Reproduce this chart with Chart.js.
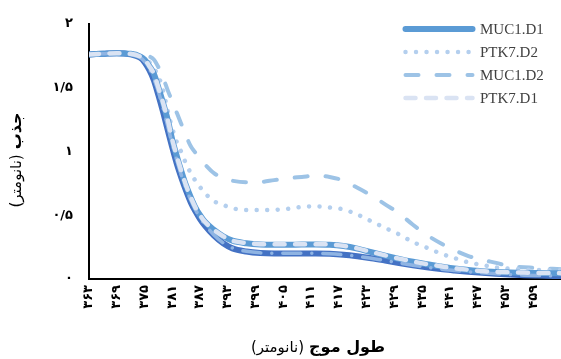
<!DOCTYPE html>
<html>
<head>
<meta charset="utf-8">
<script src="https://cdn.jsdelivr.net/npm/chart.js@4.4.1/dist/chart.umd.min.js"></script>
<style>
  html, body { margin: 0; padding: 0; background: #ffffff; }
  #wrap { width: 561px; height: 359px; }
</style>
</head>
<body>
<div id="wrap"><canvas id="chart" width="561" height="359"></canvas></div>
<script>
// Wavelength (nm) of each reading
const wavelengths = [363, 366, 369, 372, 374, 375, 376, 377, 378, 379, 380, 381, 382, 383, 384, 385, 386, 387, 388, 390, 392, 394, 397, 400, 403, 406, 409, 412, 415, 418, 421, 424, 427, 430, 433, 436, 439, 442, 445, 448, 451, 454, 457, 460, 465];

// Absorbance readings per sample
const muc1D1 = [1.76, 1.765, 1.77, 1.765, 1.745, 1.72, 1.67, 1.61, 1.50, 1.38, 1.25, 1.09, 0.96, 0.84, 0.73, 0.64, 0.56, 0.50, 0.45, 0.385, 0.335, 0.30, 0.28, 0.27, 0.268, 0.268, 0.27, 0.27, 0.268, 0.258, 0.238, 0.21, 0.183, 0.158, 0.135, 0.115, 0.098, 0.082, 0.07, 0.06, 0.054, 0.05, 0.048, 0.047, 0.045];
const ptk7D2 = [1.76, 1.765, 1.77, 1.765, 1.75, 1.73, 1.70, 1.65, 1.59, 1.48, 1.32, 1.18, 1.07, 0.99, 0.90, 0.83, 0.77, 0.72, 0.675, 0.61, 0.58, 0.555, 0.54, 0.54, 0.542, 0.55, 0.565, 0.57, 0.56, 0.545, 0.505, 0.453, 0.40, 0.35, 0.29, 0.245, 0.20, 0.164, 0.13, 0.11, 0.09, 0.08, 0.073, 0.07, 0.068];
const muc1D2 = [1.76, 1.77, 1.775, 1.77, 1.76, 1.755, 1.745, 1.72, 1.66, 1.58, 1.48, 1.39, 1.30, 1.21, 1.12, 1.04, 0.99, 0.94, 0.90, 0.83, 0.79, 0.77, 0.758, 0.76, 0.775, 0.79, 0.80, 0.81, 0.80, 0.77, 0.715, 0.655, 0.585, 0.515, 0.425, 0.345, 0.28, 0.225, 0.18, 0.15, 0.126, 0.10, 0.093, 0.085, 0.077];
const ptk7D1 = [1.76, 1.765, 1.77, 1.765, 1.745, 1.72, 1.67, 1.61, 1.50, 1.38, 1.25, 1.09, 0.96, 0.84, 0.73, 0.64, 0.56, 0.50, 0.45, 0.385, 0.335, 0.30, 0.282, 0.273, 0.272, 0.272, 0.273, 0.273, 0.27, 0.26, 0.24, 0.212, 0.185, 0.16, 0.137, 0.117, 0.1, 0.084, 0.072, 0.062, 0.056, 0.052, 0.05, 0.048, 0.046];
const series5 = [1.76, 1.765, 1.77, 1.76, 1.735, 1.70, 1.64, 1.56, 1.44, 1.31, 1.17, 1.03, 0.90, 0.79, 0.69, 0.60, 0.53, 0.47, 0.42, 0.34, 0.28, 0.24, 0.215, 0.203, 0.20, 0.20, 0.20, 0.20, 0.197, 0.19, 0.178, 0.163, 0.145, 0.126, 0.108, 0.092, 0.078, 0.067, 0.057, 0.048, 0.041, 0.035, 0.03, 0.027, 0.023];
const series6 = [1.76, 1.765, 1.77, 1.76, 1.738, 1.705, 1.65, 1.57, 1.47, 1.34, 1.20, 1.06, 0.93, 0.81, 0.71, 0.62, 0.545, 0.48, 0.43, 0.345, 0.283, 0.243, 0.217, 0.205, 0.202, 0.201, 0.201, 0.201, 0.198, 0.19, 0.178, 0.163, 0.145, 0.126, 0.108, 0.092, 0.078, 0.067, 0.057, 0.048, 0.041, 0.035, 0.03, 0.027, 0.023];

// Axis ticks
const xTickValues = [363, 369, 375, 381, 387, 393, 399, 405, 411, 417, 423, 429, 435, 441, 447, 453, 459];
const yTickValues = [0, 0.5, 1, 1.5, 2];

// Titles
const xTitleBold = 'طول موج';
const xTitleRegular = '(نانومتر)';
const yTitleBold = 'جذب';
const yTitleRegular = '(نانومتر)';

const FA_DIGITS = '۰۱۲۳۴۵۶۷۸۹';
function toPersian(v) {
  return String(v).replace(/\d/g, d => FA_DIGITS[+d]).replace('.', '/');
}
function points(values) {
  return wavelengths.map((x, i) => ({ x: x, y: values[i] }));
}

const FA_FONT = "'DejaVu Sans', sans-serif";

const datasets = [
  { label: 'PTK7.D1', data: points(ptk7D1), borderColor: '#dae3f3', borderWidth: 4.5,
    borderDash: [10, 10.5], borderCapStyle: 'round', order: 0, inLegend: true, legendRow: 3 },
  { label: 'Series6', data: points(series6), borderColor: '#8fb4e3', borderWidth: 3.5,
    borderDash: [18, 11, 0.01, 11], borderCapStyle: 'round', order: 1, inLegend: false },
  { label: 'MUC1.D1', data: points(muc1D1), borderColor: '#5b9bd5', borderWidth: 6,
    borderDash: [], borderCapStyle: 'round', order: 2, inLegend: true, legendRow: 0 },
  { label: 'Series5', data: points(series5), borderColor: '#4472c4', borderWidth: 6,
    borderDash: [], borderCapStyle: 'round', order: 3, inLegend: false },
  { label: 'PTK7.D2', data: points(ptk7D2), borderColor: '#b4cfee', borderWidth: 4.5,
    borderDash: [0.01, 10.5], borderCapStyle: 'round', order: 4, inLegend: true, legendRow: 1 },
  { label: 'MUC1.D2', data: points(muc1D2), borderColor: '#9dc3e6', borderWidth: 4,
    borderDash: [13, 18], borderCapStyle: 'round', order: 5, inLegend: true, legendRow: 2 }
].map(d => Object.assign({
  fill: false, pointRadius: 0, pointHoverRadius: 0,
  cubicInterpolationMode: 'monotone', borderJoinStyle: 'round'
}, d));

// Legend with line samples, drawn at the upper right
const lineLegend = {
  id: 'lineLegend',
  afterDraw(chart) {
    const ctx = chart.ctx;
    const rowsY = [29, 52, 75, 98];
    const x0 = 405.5, x1 = 472.5, textX = 480;
    ctx.save();
    chart.data.datasets.filter(d => d.inLegend).forEach(d => {
      const y = rowsY[d.legendRow];
      ctx.beginPath();
      ctx.strokeStyle = d.borderColor;
      ctx.lineWidth = d.borderWidth;
      ctx.lineCap = 'round';
      ctx.setLineDash(d.borderDash || []);
      ctx.moveTo(x0, y);
      ctx.lineTo(x1, y);
      ctx.stroke();
      ctx.setLineDash([]);
      ctx.fillStyle = '#404040';
      ctx.font = "15px 'Liberation Serif', serif";
      ctx.textAlign = 'left';
      ctx.textBaseline = 'middle';
      ctx.fillText(d.label, textX, y + 1);
    });
    ctx.restore();
  }
};

// Axis titles with a bold word followed by a regular unit
function drawMixedTitle(ctx, cx, cy, angle, boldText, regularText, boldSize, regSize) {
  ctx.save();
  ctx.translate(cx, cy);
  ctx.rotate(angle);
  ctx.direction = 'rtl';
  ctx.textBaseline = 'middle';
  ctx.fillStyle = '#000000';
  const boldFont = 'bold ' + boldSize + 'px ' + FA_FONT;
  const regFont = regSize + 'px ' + FA_FONT;
  ctx.font = boldFont;
  const wb = ctx.measureText(boldText).width;
  ctx.font = regFont;
  const wr = ctx.measureText(regularText).width;
  const gap = 5;
  const total = wb + gap + wr;
  ctx.textAlign = 'center';
  ctx.font = regFont;
  ctx.fillText(regularText, -total / 2 + wr / 2, 0);
  ctx.font = boldFont;
  ctx.fillText(boldText, total / 2 - wb / 2, 0);
  ctx.restore();
}
const axisTitles = {
  id: 'axisTitles',
  afterDraw(chart) {
    const ctx = chart.ctx;
    drawMixedTitle(ctx, 318, 348, 0, xTitleBold, xTitleRegular, 16, 15);
    drawMixedTitle(ctx, 17, 160, -Math.PI / 2, yTitleBold, yTitleRegular, 16, 15);
  }
};

new Chart(document.getElementById('chart').getContext('2d'), {
  type: 'line',
  data: { datasets: datasets },
  plugins: [lineLegend, axisTitles],
  options: {
    responsive: false,
    animation: false,
    devicePixelRatio: 1,
    layout: { padding: { top: 20, right: 0, left: 0, bottom: 0 } },
    plugins: { legend: { display: false }, tooltip: { enabled: false } },
    scales: {
      x: {
        type: 'linear',
        min: 363,
        max: 465,
        afterFit(scale) { scale.height = 80; },
        afterBuildTicks(scale) { scale.ticks = xTickValues.map(v => ({ value: v })); },
        grid: { display: false, drawTicks: false },
        border: { display: true, color: '#000000', width: 2 },
        ticks: {
          autoSkip: false,
          minRotation: 90,
          maxRotation: 90,
          padding: 6,
          color: '#000000',
          font: { family: FA_FONT, size: 13, weight: 'bold' },
          callback: v => toPersian(v)
        }
      },
      y: {
        type: 'linear',
        min: 0,
        max: 2,
        afterFit(scale) { scale.width = 89; },
        afterBuildTicks(scale) { scale.ticks = yTickValues.map(v => ({ value: v })); },
        grid: { display: false, drawTicks: false },
        border: { display: true, color: '#000000', width: 2 },
        ticks: {
          padding: 16,
          color: '#000000',
          font: { family: FA_FONT, size: 13, weight: 'bold' },
          callback: v => toPersian(v)
        }
      }
    }
  }
});
</script>
</body>
</html>
